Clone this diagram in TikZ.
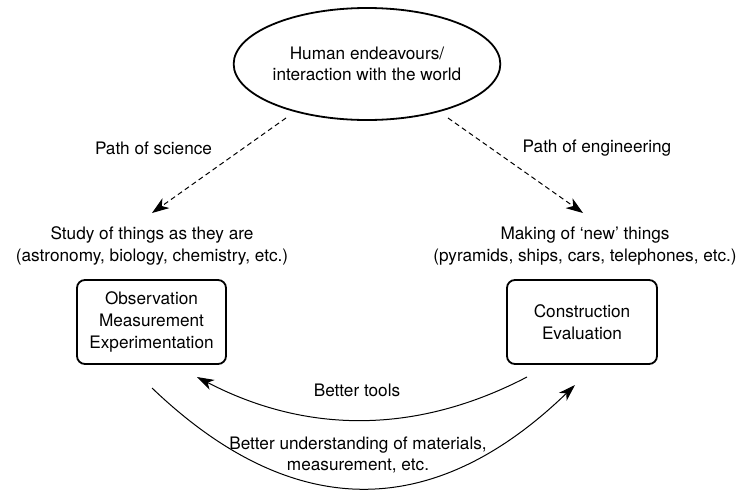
\documentclass[tikz,border=0pt]{standalone}
\usepackage{fontspec}
\setmainfont{TeX Gyre Heros}
\usetikzlibrary{arrows.meta,shapes.geometric}
\begin{document}
\begin{tikzpicture}[x=1pt,y=-1pt,
  lbl/.style={font=\fontsize{17.2}{21.7}\selectfont, align=center, inner sep=0pt},
  boxstyle/.style={draw, line width=1.8pt, rounded corners=8pt, font=\fontsize{17.2}{21.7}\selectfont, align=center},
  dasharrow/.style={dashed, line width=1pt, dash pattern=on 5pt off 3.5pt, -{Stealth[length=17pt,width=12pt,inset=5pt]}},
  arcarrow/.style={line width=1pt, -{Stealth[length=17pt,width=11pt,inset=5pt]}}]
\useasboundingbox (0,0) rectangle (741,490);
% ellipse
\node[ellipse, draw, line width=1.8pt, minimum width=250pt, minimum height=112pt, lbl] (top) at (367,64) {Human endeavours/\\interaction with the world};
% path labels
\node[lbl] (psci) at (153.5,148) {Path of science};
\node[lbl] (peng) at (597,148) {Path of engineering};
% study / making
\node[lbl] (study) at (152,246) {Study of things as they are\\(astronomy, biology, chemistry, etc.)};
\node[lbl] (make) at (585,246) {Making of ‘new’ things\\(pyramids, ships, cars, telephones, etc.)};
% boxes
\node[boxstyle, minimum width=149pt, minimum height=84pt] (obs) at (151.5,322) {Observation\\Measurement\\Experimentation};
\node[boxstyle, minimum width=150pt, minimum height=84pt] (con) at (582,322) {Construction\\Evaluation};
% dashed arrows
\coordinate (sciS) at (286,118);
\coordinate (sciT) at (152,213);
\coordinate (engS) at (448,118);
\coordinate (engT) at (583,213);
\draw[dasharrow] (sciS) -- (sciT);
\draw[dasharrow] (engS) -- (engT);
% arcs
\coordinate (btS) at (527,377);
\coordinate (btT) at (197,377);
\coordinate (buS) at (152,388);
\coordinate (buT) at (575,385);
\draw[arcarrow] (btS) .. controls (417,434.3) and (307,434.3) .. (btT);
\draw[arcarrow] (buS) .. controls (292.7,522.7) and (433.7,521.7) .. (buT);
\node[lbl] (tools) at (357,390) {Better tools};
\node[lbl] (under) at (358,455) {Better understanding of materials,\\measurement, etc.};
\end{tikzpicture}
\end{document}
